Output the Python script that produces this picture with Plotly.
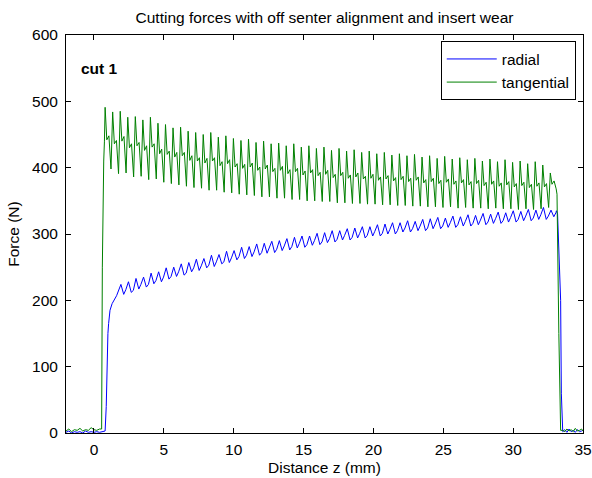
import plotly.graph_objects as go

# ---------------- data ----------------
title_text = "Cutting forces with off senter alignment and insert wear"
x_label = "Distance z (mm)"
y_label = "Force (N)"
series_names = ["radial", "tangential"]
x_ticks = [0, 5, 10, 15, 20, 25, 30, 35]
y_ticks = [0, 100, 200, 300, 400, 500, 600]

# idle (tool not cutting) before the cut
pre_z = [-2.0, -1.8, -1.6, -1.4, -1.2, -1.0, -0.8, -0.6, -0.4, -0.2, 0.0, 0.2, 0.4]
tan_pre = [3, 6, 2, 5, 4, 7, 3, 5, 4, 8, 5, 4, 6]
rad_pre = [1, 3, 0, 2, 1, 2, 0, 3, 1, 2, 1, 2, 1]

# entry of the insert
tan_rise_z = [0.55, 0.60, 0.64, 0.70, 0.75]
tan_rise = [6, 250, 355, 410, 440]
rad_rise_z = [0.55, 0.80, 0.88, 0.95, 1.00, 1.05, 1.15, 1.30, 1.45, 1.62]
rad_rise = [2, 3, 40, 120, 150, 165, 185, 195, 200, 207]

# cyclic part: one cycle per insert revolution
cycle_start_mm = 0.80
cycle_len_mm = 0.54
tan_peak = [491, 484, 485, 476, 477, 472, 476, 467, 465, 460,
            461, 455, 453, 450, 453, 446, 448, 444, 441, 443,
            438, 440, 436, 437, 433, 436, 431, 433, 429, 431,
            426, 429, 425, 427, 423, 425, 421, 423, 419, 421,
            418, 420, 416, 418, 414, 417, 413, 415, 412, 414,
            410, 413, 409, 412, 408, 410, 406, 409, 404, 392]
tan_mid1 = [442, 436, 440, 430, 433, 426, 431, 421, 420, 416,
            418, 411, 410, 407, 410, 403, 406, 401, 399, 401,
            396, 398, 394, 396, 391, 394, 389, 392, 388, 390,
            385, 388, 384, 386, 383, 384, 381, 383, 380, 382,
            379, 381, 377, 379, 376, 378, 375, 377, 374, 376,
            373, 375, 372, 374, 371, 373, 370, 372, 371, 375]
tan_mid2 = [448, 441, 447, 436, 438, 433, 436, 428, 425, 423,
            423, 418, 415, 414, 415, 409, 412, 406, 405, 407,
            401, 404, 399, 402, 397, 399, 395, 397, 393, 396,
            390, 393, 389, 392, 387, 390, 386, 388, 385, 387,
            384, 386, 382, 384, 381, 383, 380, 382, 379, 381,
            378, 380, 377, 379, 376, 378, 375, 377, 376, 380]
tan_trough = [398, 391, 392, 386, 387, 382, 383, 378, 376, 374,
              372, 370, 369, 366, 366, 363, 362, 360, 359, 358,
              356, 356, 354, 354, 352, 352, 350, 350, 349, 349,
              347, 347, 346, 346, 345, 345, 344, 344, 343, 343,
              342, 342, 341, 341, 340, 341, 339, 340, 339, 339,
              338, 339, 338, 338, 337, 338, 337, 338, 340, 368]
rad_first_cycle = 2
rad_hi = [224, 228, 233, 235, 241, 243, 249, 250, 255, 257,
          262, 263, 268, 269, 274, 275, 280, 281, 285, 286,
          289, 290, 293, 295, 297, 297, 301, 302, 305, 305,
          308, 309, 311, 311, 314, 315, 317, 317, 320, 319,
          322, 323, 325, 324, 327, 326, 329, 328, 331, 330,
          333, 332, 335, 334, 337, 336, 340, 336]
rad_lo = [209, 212, 217, 220, 225, 228, 232, 236, 238, 243,
          245, 249, 251, 255, 257, 261, 263, 266, 268, 271,
          272, 275, 276, 279, 280, 283, 284, 287, 288, 291,
          291, 294, 294, 297, 297, 300, 300, 303, 303, 305,
          305, 308, 308, 310, 310, 312, 312, 314, 314, 316,
          316, 318, 318, 320, 320, 322, 322, 326]
rad_mid = [216, 215, 224, 224, 230, 235, 236, 243, 241, 249,
           252, 253, 258, 258, 264, 266, 268, 273, 272, 278,
           277, 282, 281, 286, 284, 290, 288, 293, 292, 298,
           295, 301, 298, 304, 301, 307, 305, 309, 308, 312,
           309, 315, 312, 317, 314, 319, 316, 321, 318, 323,
           320, 325, 322, 327, 324, 329, 327, 332]

# exit of the insert
tan_fall_z = [33.14, 33.27, 33.40]
tan_fall = [360, 150, 4]
rad_fall_z = [33.10, 33.18, 33.24, 33.32, 33.40, 33.45, 33.50]
rad_fall = [335, 330, 300, 255, 200, 60, 3]

# idle after the cut
post_z = [33.55, 33.70, 33.85, 34.00, 34.15, 34.30, 34.45, 34.60, 34.75, 34.90, 35.00]
tan_post = [4, 2, 6, 3, 5, 2, 7, 3, 4, 6, 3]
rad_post = [2, 5, 1, 6, 2, 4, 1, 5, 2, 3, 4]

# ---------------- build the series ----------------
tan_x = list(pre_z) + list(tan_rise_z)
tan_y = list(tan_pre) + list(tan_rise)
for k in range(len(tan_peak)):
    z0 = cycle_start_mm + k * cycle_len_mm
    tan_x += [z0, z0 + 0.12, z0 + 0.27, z0 + 0.42]
    tan_y += [tan_peak[k], tan_mid1[k], tan_mid2[k], tan_trough[k]]
tan_x += tan_fall_z + post_z
tan_y += tan_fall + tan_post

rad_x = list(pre_z) + list(rad_rise_z)
rad_y = list(rad_pre) + list(rad_rise)
for i in range(len(rad_hi)):
    z0 = cycle_start_mm + (i + rad_first_cycle) * cycle_len_mm
    rad_x += [z0 + 0.05, z0 + 0.25, z0 + 0.40]
    rad_y += [rad_hi[i], rad_lo[i], rad_mid[i]]
rad_x += rad_fall_z + post_z
rad_y += rad_fall + rad_post

FONT = "Liberation Sans, Arial, Helvetica, sans-serif"
FS = 15.5

fig = go.Figure()
fig.add_trace(go.Scatter(x=rad_x, y=rad_y, mode="lines", name=series_names[0],
                         line=dict(color="#0000ff", width=1)))
fig.add_trace(go.Scatter(x=tan_x, y=tan_y, mode="lines", name=series_names[1],
                         line=dict(color="#008000", width=1)))

axis_common = dict(showline=True, linecolor="black", linewidth=1, mirror="ticks",
                   ticks="inside", ticklen=5, tickcolor="black", showgrid=False,
                   zeroline=False, automargin=False,
                   tickfont=dict(family=FONT, size=FS, color="black"))

fig.update_layout(
    width=592, height=478,
    margin=dict(l=66, r=9, t=35, b=45),
    paper_bgcolor="white", plot_bgcolor="white",
    font=dict(family=FONT, size=FS, color="black"),
    title=dict(text=title_text, x=0.5, xref="paper", y=1 - 18 / 478, yref="container",
               xanchor="center", yanchor="middle", font=dict(family=FONT, size=FS, color="black")),
    xaxis=dict(range=[-2, 35], tickvals=x_ticks, ticktext=[str(v) for v in x_ticks],
               ticklabelstandoff=2,
               title=dict(text=x_label, standoff=5, font=dict(family=FONT, size=FS)), **axis_common),
    yaxis=dict(range=[0, 600], tickvals=y_ticks, ticktext=[str(v) for v in y_ticks],
               ticklabelstandoff=4,
               title=dict(text=y_label, standoff=8, font=dict(family=FONT, size=FS)), **axis_common),
    legend=dict(x=0.986, y=0.984, xanchor="right", yanchor="top", bgcolor="white",
                bordercolor="black", borderwidth=1, font=dict(family=FONT, size=FS),
                itemwidth=50, tracegroupgap=0),
    showlegend=True,
    annotations=[dict(x=-1.1, y=550, xref="x", yref="y", text="<b>cut 1</b>", showarrow=False,
                      xanchor="left", yanchor="middle", font=dict(family=FONT, size=FS, color="black"))],
)

fig.write_html("out.html")
